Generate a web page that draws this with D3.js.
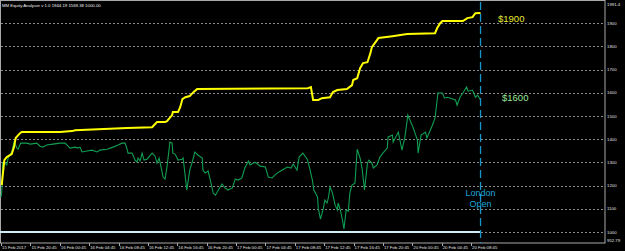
<!DOCTYPE html>
<html>
<head>
<meta charset="utf-8">
<script src="https://cdn.jsdelivr.net/npm/d3@7"></script>
<style>
  html, body { margin: 0; padding: 0; background: #000; }
  svg { display: block; }
  text { font-family: 'Liberation Sans', Arial, sans-serif; }
</style>
</head>
<body>
<div id="graf"></div>
<script>
const titulo = 'MM Equity Analyser v 1.0 1944.19 1569.38 1000.00'

// x axis: trading hours since start, one label every 4 h
const xLabels = ['15 Feb 2017', '15 Feb 20:45', '16 Feb 00:45', '16 Feb 04:45', '16 Feb 08:45',
  '16 Feb 12:45', '16 Feb 16:45', '16 Feb 20:45', '17 Feb 00:45', '17 Feb 04:45', '17 Feb 08:45',
  '17 Feb 12:45', '17 Feb 16:45', '17 Feb 20:45', '20 Feb 00:45', '20 Feb 04:45', '20 Feb 08:45']
const yTicks = [1000, 1100, 1200, 1300, 1400, 1500, 1600, 1700, 1800, 1900]
const yMin = 952.79
const yMax = 1991.4
const londonHour = 65.3

// balance (yellow)
const balHours = [0.1, 0.45, 0.78, 1.46, 1.77, 2.0, 2.59, 2.82, 8.04, 9.67, 10.08, 17.17, 20.57, 21.25,
  22.34, 22.6, 23.3, 23.4, 24.1, 24.4, 24.7, 25.1, 25.7, 26.2, 26.7, 41.8, 42.2, 42.5, 43.2, 43.7,
  44.8, 45.2, 45.8, 47.1, 47.8, 47.96, 48.5, 48.9, 49.3, 49.9, 50.3, 50.5, 50.9, 51.4, 53.3, 55.3,
  59.1, 59.4, 59.8, 60.1, 62.9, 63.5, 64.2, 64.6, 65.3]
const balValues = [1202, 1310, 1323, 1336, 1366, 1405, 1426, 1431, 1431, 1435, 1439, 1448, 1452, 1474,
  1474, 1478, 1504, 1517, 1517, 1538, 1573, 1581, 1586, 1603, 1616, 1620, 1625, 1569, 1569, 1577,
  1581, 1603, 1612, 1616, 1633, 1655, 1663, 1706, 1728, 1732, 1771, 1797, 1814, 1836, 1844, 1853,
  1857, 1879, 1900, 1909, 1909, 1922, 1926, 1943, 1944.19]

// equity (green)
const eqHours = [0, 0.1, 0.23, 0.41, 0.78, 1.0, 1.46, 1.77, 1.91, 2.14, 2.32, 2.68, 2.96, 3.5, 4.0,
  4.86, 5.31, 5.72, 6.23, 7.08, 8.04, 8.72, 9.13, 9.4, 10.08, 10.49, 10.76, 11.04, 11.72, 12.4, 13.08,
  13.49, 14.44, 15.26, 15.94, 16.49, 16.89, 17.17, 17.3, 17.85, 18.26, 18.53, 18.66, 18.94, 19.21,
  19.48, 19.89, 20.57, 20.98, 21.25, 21.53, 21.8, 22.07, 22.34, 22.6, 23.0, 23.3, 23.4, 23.7, 23.98,
  24.1, 24.66, 24.8, 25.3, 25.7, 26.0, 26.4, 26.8, 27.4, 27.5, 27.8, 28.2, 28.5, 28.9, 29.2, 29.6,
  30.1, 30.5, 30.9, 31.5, 31.9, 32.3, 32.8, 33.2, 33.7, 33.9, 34.6, 35.3, 36.0, 36.4, 36.9, 37.6,
  38.3, 39.0, 39.5, 39.8, 40.3, 40.6, 41.1, 41.7, 42.0, 42.4, 42.6, 43.1, 43.2, 43.5, 43.9, 44.1,
  44.4, 44.6, 44.8, 45.1, 45.5, 45.8, 45.9, 46.2, 46.5, 46.7, 47.0, 47.3, 47.5, 47.8, 48.2, 48.5,
  48.9, 49.2, 49.3, 49.5, 49.9, 50.1, 50.5, 50.7, 51.2, 51.6, 52.0, 52.6, 52.7, 53.3, 53.4, 54.1,
  54.6, 55.0, 55.4, 56.1, 56.7, 56.8, 57.2, 57.8, 58.0, 58.7, 59.1, 59.5, 60.1, 60.4, 60.8, 61.2,
  61.9, 62.1, 62.5, 62.9, 63.4, 63.6, 64.2, 64.6, 64.9, 65.3]
const eqValues = [1151, 1172, 1297, 1301, 1289, 1323, 1345, 1388, 1383, 1362, 1357, 1383, 1383, 1383, 1379,
  1383, 1370, 1366, 1375, 1379, 1383, 1383, 1370, 1362, 1366, 1362, 1366, 1345, 1349, 1353, 1345,
  1353, 1357, 1366, 1375, 1383, 1383, 1357, 1340, 1340, 1310, 1301, 1319, 1306, 1340,
  1310, 1314, 1340, 1327, 1297, 1319, 1280, 1237, 1228, 1280, 1388, 1383, 1340, 1336, 1319,
  1310, 1314, 1319, 1181, 1267, 1297, 1345, 1332, 1319, 1267, 1254, 1263, 1224, 1168, 1159, 1181,
  1207, 1190, 1181, 1190, 1228, 1224, 1233, 1276, 1306, 1289, 1301, 1284, 1280, 1237, 1233, 1254,
  1267, 1280, 1276, 1293, 1267, 1323, 1340, 1314, 1280, 1224, 1181, 1151, 1103, 1056, 1103, 1138,
  1125, 1151, 1194, 1172, 1116, 1095, 1125, 1095, 1052, 1013, 1095, 1090, 1168, 1202, 1211, 1357,
  1319, 1267, 1237, 1181, 1297, 1310, 1297, 1276, 1289, 1323, 1340, 1362, 1409, 1418, 1388, 1431,
  1353, 1409, 1504, 1452, 1396, 1340, 1418, 1431, 1405, 1457, 1491, 1599, 1599, 1577, 1581, 1577,
  1569, 1547, 1581, 1599, 1625, 1607, 1612, 1581, 1590, 1569.38]

const anchoTotal = 625
const altoTotal = 251
const plot = { left: 1, right: 605, top: 2, bottom: 243 }

const svg = d3.select('#graf')
  .append('svg')
  .attr('width', anchoTotal)
  .attr('height', altoTotal)

svg.append('rect')
  .attr('width', anchoTotal)
  .attr('height', altoTotal)
  .attr('fill', '#000')

const x = d3.scaleLinear().domain([0, 64]).range([plot.left, 471])
const y = d3.scaleLinear().domain([yMin, yMax]).range([plot.bottom, plot.top])

// grid
svg.append('g')
  .selectAll('line')
  .data(yTicks)
  .join('line')
  .attr('x1', plot.left)
  .attr('x2', plot.right)
  .attr('y1', (d) => Math.round(y(d)) + 0.5)
  .attr('y2', (d) => Math.round(y(d)) + 0.5)
  .attr('stroke', '#8a8a8a')
  .attr('stroke-dasharray', '2,2')

// frame
svg.append('rect')
  .attr('x', 0.5)
  .attr('y', 0.5)
  .attr('width', plot.right - 0.5)
  .attr('height', plot.bottom - 0.5)
  .attr('fill', 'none')
  .attr('stroke', '#a8a8a8')

// right axis labels
const yAxisG = svg.append('g').attr('font-size', 4.3).attr('fill', '#e0e0e0')
yAxisG.selectAll('text')
  .data(yTicks)
  .join('text')
  .attr('x', 607)
  .attr('y', (d) => y(d) + 1.5)
  .text((d) => d)
yAxisG.append('text').attr('x', 607).attr('y', 6).text(yMax)
yAxisG.append('text').attr('x', 607).attr('y', 241.5).text(yMin)

// bottom axis
const xAxisG = svg.append('g')
xAxisG.selectAll('line')
  .data(xLabels)
  .join('line')
  .attr('x1', (d, i) => Math.round(x(i * 4)) + 0.5)
  .attr('x2', (d, i) => Math.round(x(i * 4)) + 0.5)
  .attr('y1', plot.bottom)
  .attr('y2', plot.bottom + 3)
  .attr('stroke', '#a8a8a8')
xAxisG.selectAll('text')
  .data(xLabels)
  .join('text')
  .attr('x', (d, i) => x(i * 4) + 1)
  .attr('y', 249)
  .attr('font-size', 4.3)
  .attr('fill', '#e0e0e0')
  .text((d) => d)

// starting balance line
svg.append('line')
  .attr('x1', 0)
  .attr('x2', x(londonHour))
  .attr('y1', y(1000))
  .attr('y2', y(1000))
  .attr('stroke', '#cdeef5')
  .attr('stroke-width', 2)

const linea = d3.line()
  .x((d) => x(d[0]))
  .y((d) => y(d[1]))

const eqData = eqHours.map((h, i) => [h, eqValues[i]])
const balData = balHours.map((h, i) => [h, balValues[i]])

svg.append('path')
  .datum(eqData)
  .attr('d', linea)
  .attr('fill', 'none')
  .attr('stroke', '#109e52')
  .attr('stroke-width', 1.1)

svg.append('path')
  .datum(balData)
  .attr('d', linea)
  .attr('fill', 'none')
  .attr('stroke', '#ffff00')
  .attr('stroke-width', 2)

// london open marker
svg.append('line')
  .attr('x1', x(londonHour))
  .attr('x2', x(londonHour))
  .attr('y1', plot.top)
  .attr('y2', plot.bottom)
  .attr('stroke', '#1b93c9')
  .attr('stroke-width', 1.3)
  .attr('stroke-dasharray', '8,4')

svg.append('text')
  .attr('x', x(londonHour))
  .attr('y', 196)
  .attr('text-anchor', 'middle')
  .attr('font-size', 9)
  .attr('fill', '#1ea6d8')
  .text('London')
svg.append('text')
  .attr('x', x(londonHour))
  .attr('y', 207)
  .attr('text-anchor', 'middle')
  .attr('font-size', 9)
  .attr('fill', '#1ea6d8')
  .text('Open')

svg.append('text')
  .attr('x', 498)
  .attr('y', 21.5)
  .attr('font-size', 9.5)
  .attr('fill', '#e8e832')
  .text('$1900')
svg.append('text')
  .attr('x', 502)
  .attr('y', 101)
  .attr('font-size', 9.5)
  .attr('fill', '#98e898')
  .text('$1600')

svg.append('text')
  .attr('x', 2)
  .attr('y', 6.5)
  .attr('font-size', 4.3)
  .attr('fill', '#f0f0f0')
  .text(titulo)
</script>
</body>
</html>
